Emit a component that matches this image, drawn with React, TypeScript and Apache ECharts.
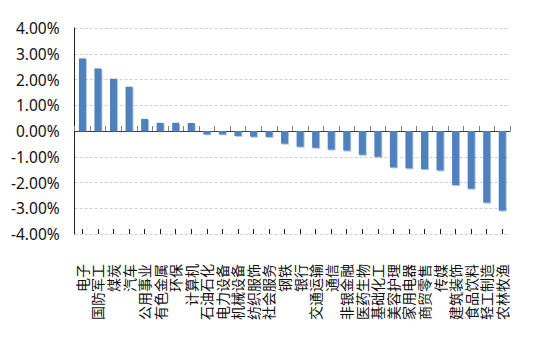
import React, { useEffect, useRef } from "react";
import * as echarts from "echarts";

const categories = [
  "电子", "国防军工", "煤炭", "汽车", "公用事业", "有色金属", "环保", "计算机",
  "石油石化", "电力设备", "机械设备", "纺织服饰", "社会服务", "钢铁", "银行", "交通运输",
  "通信", "非银金融", "医药生物", "基础化工", "美容护理", "家用电器", "商贸零售", "传媒",
  "建筑装饰", "食品饮料", "轻工制造", "农林牧渔",
];

const changes = [
  2.82, 2.43, 2.03, 1.72, 0.47, 0.32, 0.32, 0.31,
  -0.13, -0.13, -0.19, -0.22, -0.23, -0.49, -0.61, -0.65,
  -0.72, -0.76, -0.92, -1.0, -1.41, -1.45, -1.48, -1.53,
  -2.1, -2.24, -2.78, -3.09,
];

const yMin = -4;
const yMax = 4;
const yStep = 1;

const FONT = "'Noto Sans', 'Noto Sans CJK SC', sans-serif";

export default function App() {
  const ref = useRef<HTMLDivElement>(null);
  useEffect(() => {
    if (!ref.current) return;
    const chart = echarts.init(ref.current, undefined, { renderer: "svg" });
    chart.setOption({
      animation: false,
      backgroundColor: "#ffffff",
      grid: { left: 59, top: 20, right: 24, bottom: 113, containLabel: false },
      xAxis: [
        {
          type: "category",
          data: categories,
          position: "bottom",
          axisLine: { show: true, onZero: true, lineStyle: { color: "#404040", width: 1 } },
          axisTick: { show: true, inside: true, length: 5, alignWithLabel: false, interval: 0, lineStyle: { color: "#808080" } },
          axisLabel: { show: false },
          splitLine: { show: false },
        },
        {
          type: "category",
          data: categories,
          position: "bottom",
          axisLine: { show: false, onZero: true },
          axisTick: { show: true, inside: true, length: 5, alignWithLabel: true, interval: 0, lineStyle: { color: "#202020" } },
          axisLabel: { show: false },
          splitLine: { show: false },
        },
        {
          type: "category",
          data: categories,
          position: "bottom",
          axisLine: { show: false, onZero: false },
          axisTick: { show: false },
          axisLabel: {
            show: true,
            interval: 0,
            rotate: 90,
            margin: 30,
            fontSize: 14,
            color: "#111111",
            fontFamily: FONT,
          },
          splitLine: { show: false },
        },
      ],
      yAxis: {
        type: "value",
        min: yMin,
        max: yMax,
        interval: yStep,
        axisLine: { show: true, lineStyle: { color: "#202020", width: 1 } },
        axisTick: { show: false },
        axisLabel: {
          margin: 15,
          fontSize: 15.5,
          color: "#111111",
          fontFamily: FONT,
          formatter: (v: number) => v.toFixed(2) + "%",
        },
        splitLine: { show: true, lineStyle: { color: "#cfcfcf", type: [3, 2], width: 1 } },
      },
      series: [
        {
          type: "bar",
          xAxisIndex: 0,
          data: changes,
          barWidth: 7,
          itemStyle: {
            color: "#4F81BD",
            shadowColor: "rgba(79,129,189,0.45)",
            shadowOffsetX: 1,
            shadowOffsetY: 1,
            shadowBlur: 0,
          },
        },
      ],
    });
    return () => chart.dispose();
  }, []);
  return <div ref={ref} style={{ width: 526, height: 339 }} />;
}
